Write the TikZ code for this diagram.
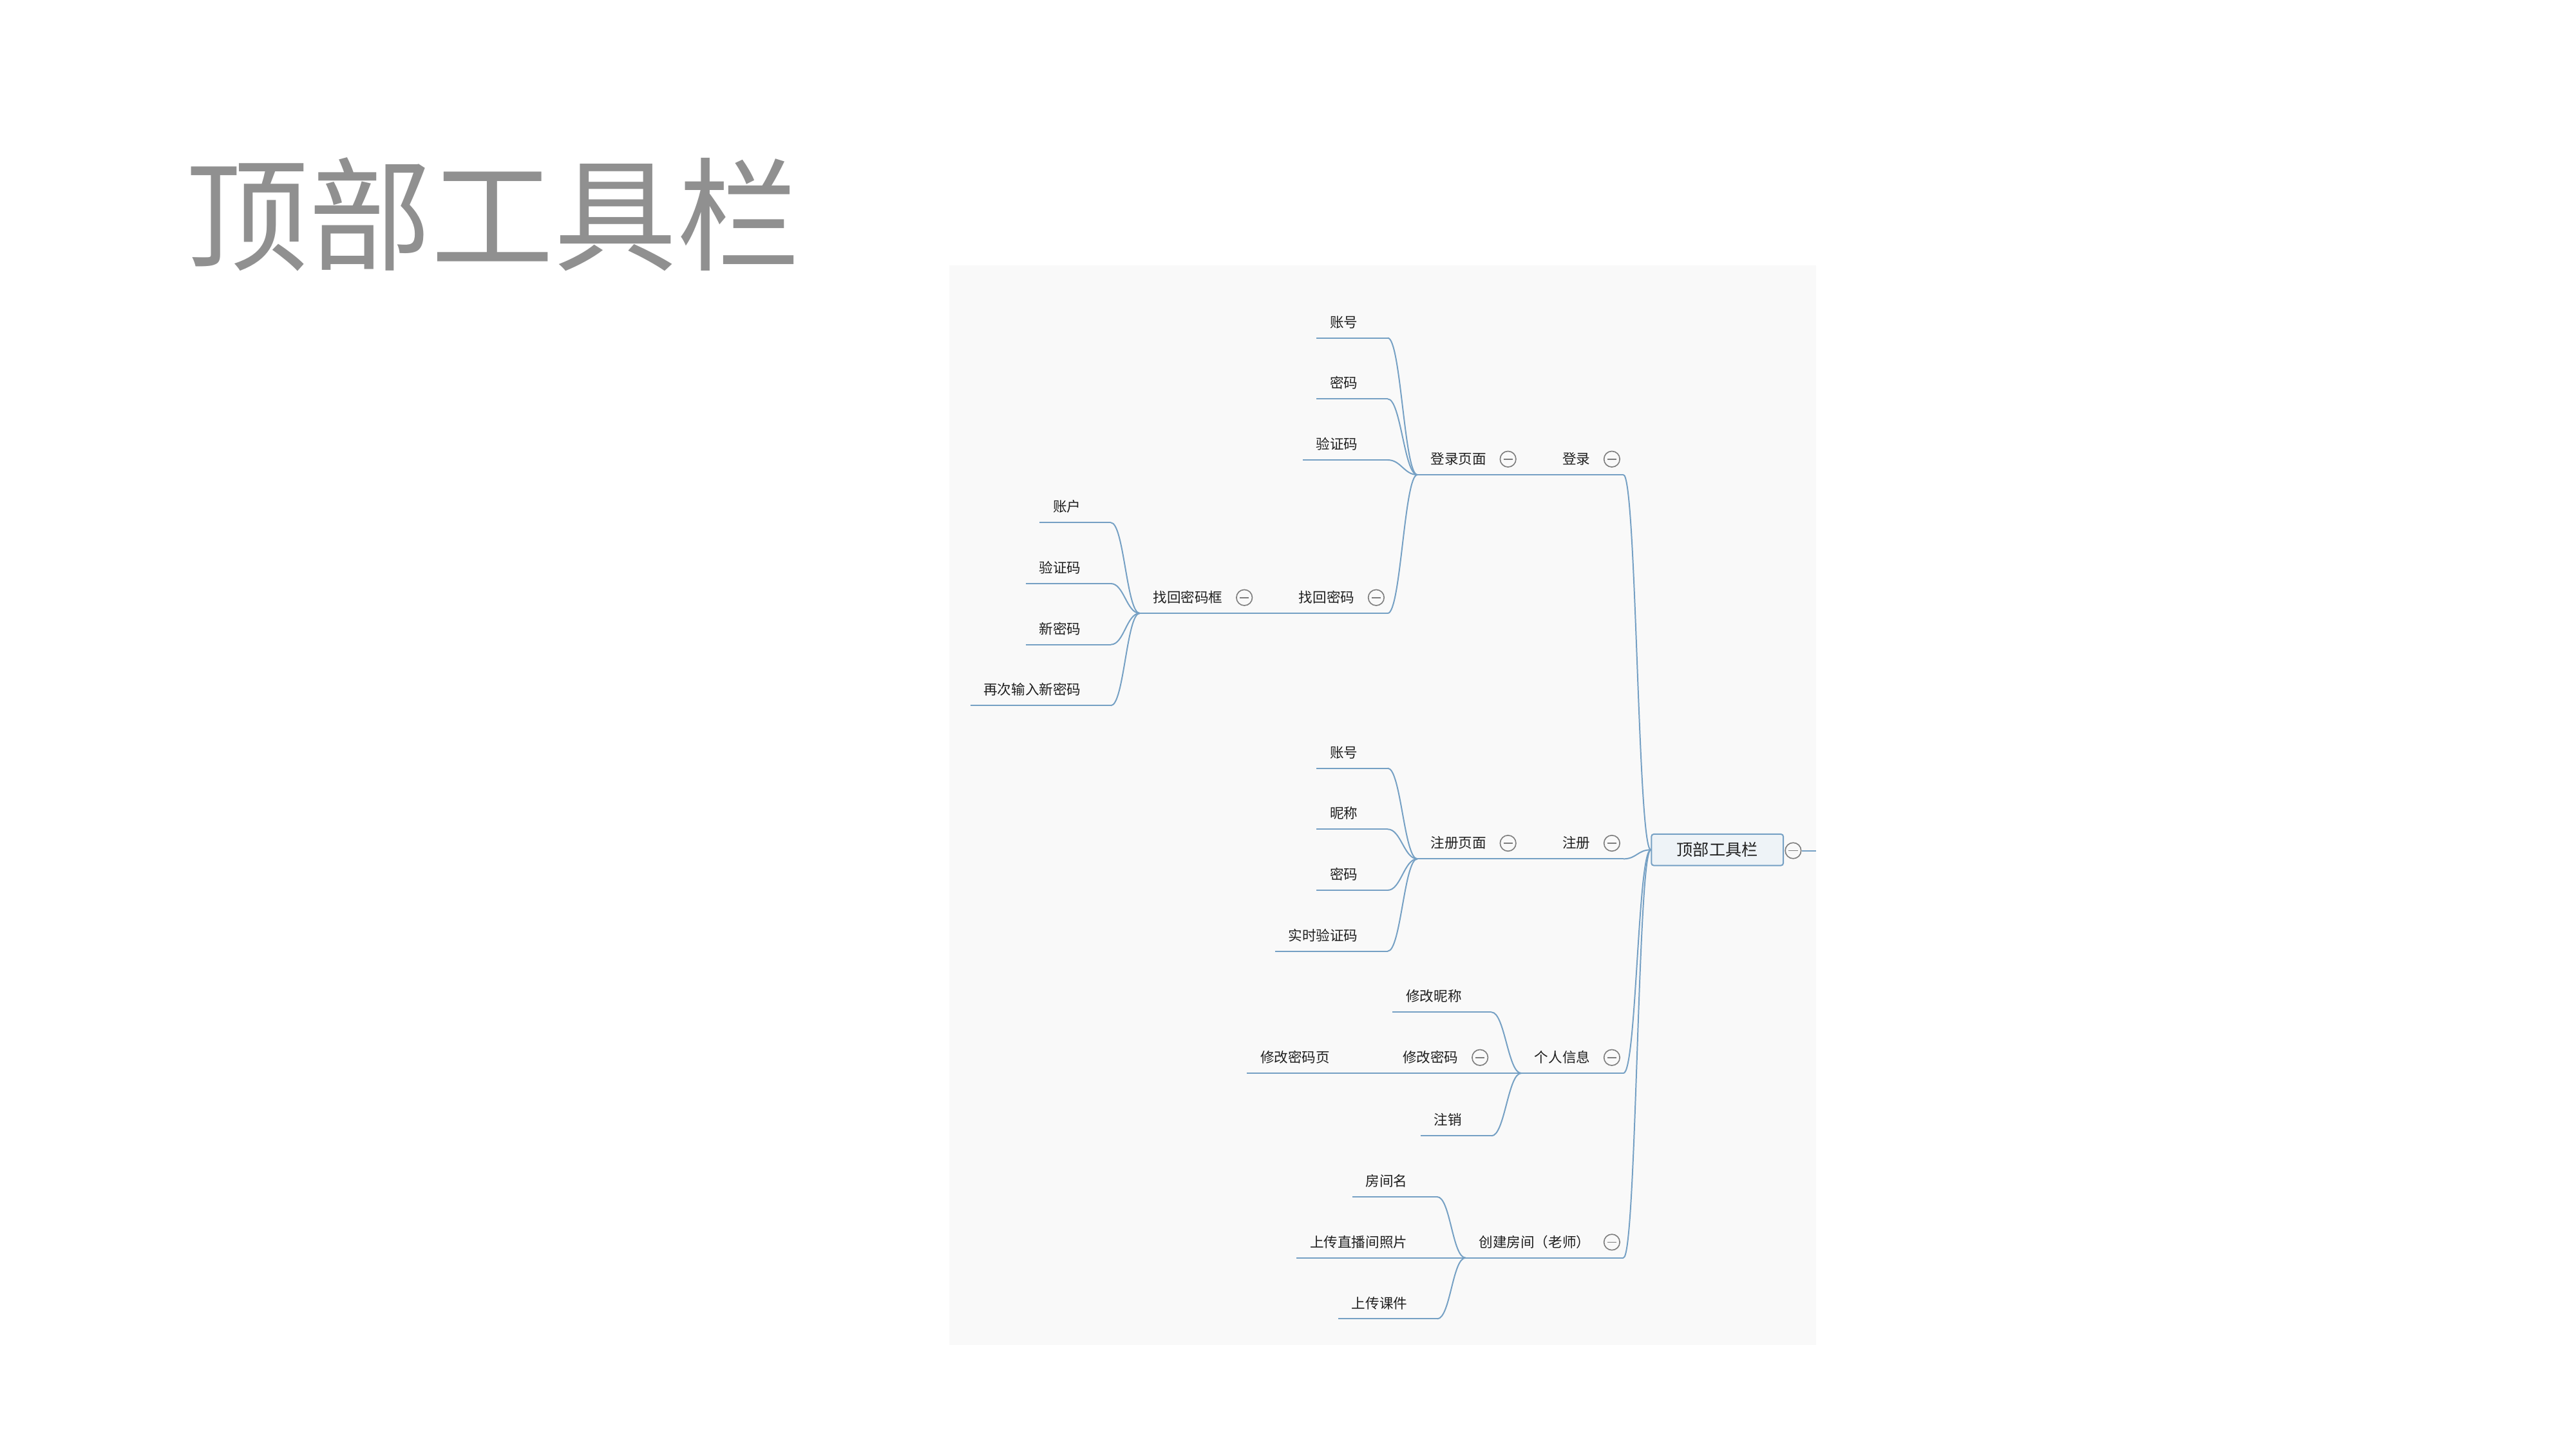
\documentclass[tikz,border=0pt]{standalone}
\usepackage{fontspec}
\newfontfamily\cjk{Noto Sans CJK SC}
\usepackage{xcolor}
\definecolor{linkblue}{RGB}{117,160,196}
\definecolor{titlegray}{RGB}{144,144,144}
\definecolor{panelbg}{RGB}{249,249,249}
\definecolor{rootfill}{RGB}{238,243,247}
\definecolor{foldgray}{RGB}{125,125,125}

\tikzset{
  topic/.style={font=\cjk\fontsize{12pt}{12pt}\selectfont, text=black!88,
    inner xsep=0.4cm, inner ysep=5.9pt, text height=9pt, text depth=3pt, anchor=south east},
  link/.style={draw=linkblue, line width=1.1pt},
  foldmark/.style={circle, draw=foldgray, line width=0.9pt, minimum size=0.48cm, inner sep=0pt,
    path picture={\draw[foldgray, line width=0.9pt]
      ([xshift=-0.14cm]path picture bounding box.center) -- ([xshift=0.14cm]path picture bounding box.center);}},
}
\newcommand{\leafpad}{\hspace*{0.5cm}}
\newcommand{\foldpad}{\hspace*{0.6cm}}

\begin{document}
\begin{tikzpicture}[x=0.05cm, y=-0.05cm]
  \useasboundingbox (0,0) rectangle (1563,879.2);

  % Title
  \node[font=\cjk\fontsize{106pt}{106pt}\selectfont, text=titlegray, inner sep=0pt] (title) at (299,130) {顶部工具栏};

  % Panel
  \fill[panelbg] (576,161) rectangle (1102,816);

  % Root
  \node[draw=linkblue, fill=rootfill, line width=1.1pt, rounded corners=2pt, minimum width=4cm, minimum height=0.95cm,
    font=\cjk\fontsize{14pt}{14pt}\selectfont, text=black!88] (root) at (1042,515.5) {顶部工具栏};
  \node[foldmark] (root-f) at (1088,516) {};
  \coordinate (root-out) at (1102,516);
  \draw[link] (root-f) -- (root-out);

  % Branches with children
  \foreach \n/\x/\y/\t in {login/985/288/登录, reg/985/521/注册, info/985/651/个人信息, room/985/763/创建房间（老师）,
      loginpage/922/288/登录页面, find/842/372/找回密码, findbox/762/372/找回密码框,
      regpage/922/521/注册页面, pwd/905/651/修改密码}
    \node[topic] (\n) at (\x,\y) {\t\foldpad};

  % Leaves
  \foreach \n/\x/\y/\t in {login-1/842/205/账号, login-2/842/242/密码, login-3/842/279/验证码,
      find-1/674/317/账户, find-2/674/354/验证码, find-3/674/391/新密码, find-4/674/428/再次输入新密码,
      reg-1/842/466/账号, reg-2/842/503/昵称, reg-3/842/540/密码, reg-4/842/577/实时验证码,
      info-1/905/614/修改昵称, info-3/905/689/注销, pwdpage/825/651/修改密码页,
      room-1/872/726/房间名, room-2/872/763/上传直播间照片, room-3/872/800/上传课件}
    \node[topic] (\n) at (\x,\y) {\t\leafpad};

  % Fold marks
  \foreach \n in {login, reg, info, room, loginpage, find, findbox, regpage, pwd}
    \node[foldmark] (\n-f) at ([xshift=-0.35cm, yshift=0.475cm]\n.south east) {};

  % Underlines
  \foreach \n in {login, reg, info, room, loginpage, find, findbox, regpage, pwd,
      login-1, login-2, login-3, find-1, find-2, find-3, find-4, reg-1, reg-2, reg-3, reg-4,
      info-1, info-3, pwdpage, room-1, room-2, room-3}
    \draw[link] (\n.south west) -- (\n.south east);

  % Connectors
  \foreach \c in {login, reg, info, room}
    \draw[link] (\c.south east) to[out=0, in=180, distance=0.4cm] (root.west);
  \foreach \c/\p in {loginpage/login, login-1/loginpage, login-2/loginpage, login-3/loginpage, find/loginpage,
      findbox/find, find-1/findbox, find-2/findbox, find-3/findbox, find-4/findbox,
      regpage/reg, reg-1/regpage, reg-2/regpage, reg-3/regpage, reg-4/regpage,
      info-1/info, pwd/info, info-3/info, pwdpage/pwd,
      room-1/room, room-2/room, room-3/room}
    \draw[link] (\c.south east) to[out=0, in=180, distance=0.4cm] (\p.south west);
\end{tikzpicture}
\end{document}
